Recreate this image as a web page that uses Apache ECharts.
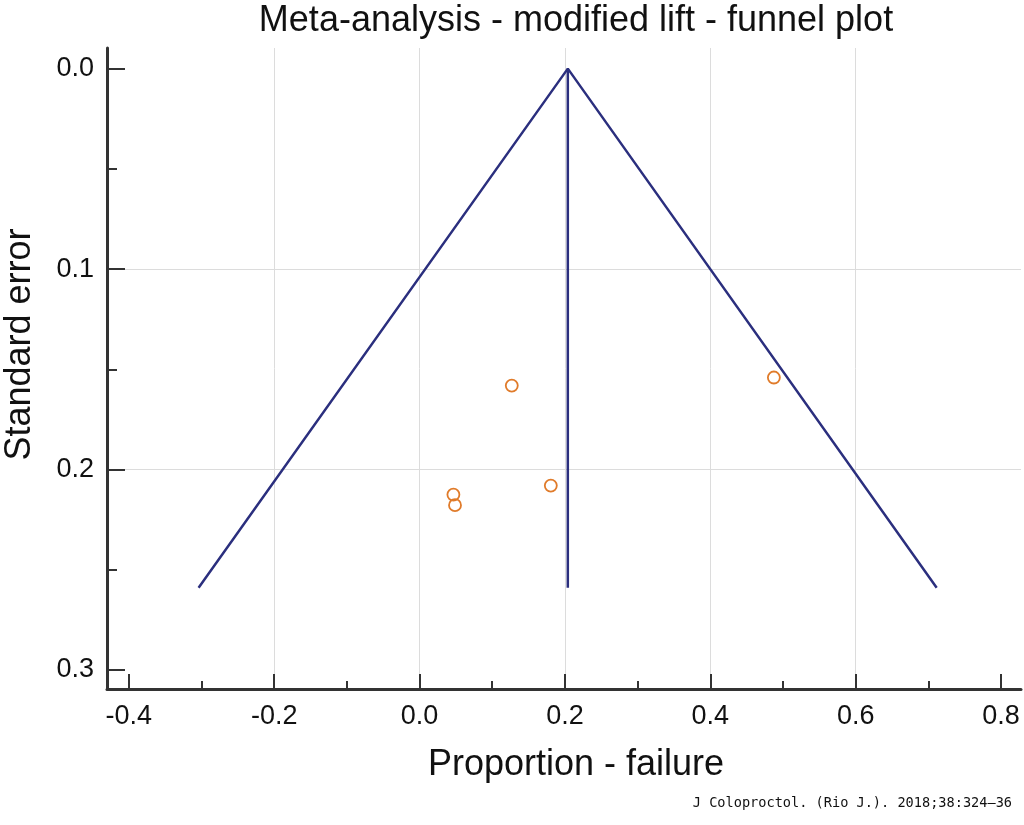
<!DOCTYPE html>
<html>
<head>
<meta charset="utf-8">
<script src="https://cdn.jsdelivr.net/npm/echarts@6/dist/echarts.min.js"></script>
<style>
  html, body { margin: 0; padding: 0; background: #fff; }
  #chart { width: 1024px; height: 825px; }
</style>
</head>
<body>
<div id="chart"></div>
<script>
// studies: proportion of failure vs standard error
var studyProp = [0.1269, 0.4875, 0.1806, 0.0466, 0.0488];
var studySE   = [0.1581, 0.1541, 0.2080, 0.2125, 0.2178];

// funnel limits and pooled estimate
var funnelProp = [-0.304, 0.204, 0.7115];
var funnelSE   = [0.259, 0.0, 0.259];
var pooledProp = [0.204, 0.204];
var pooledSE   = [0.0, 0.259];

var xTicks = [-0.4, -0.2, 0.0, 0.2, 0.4, 0.6, 0.8];
var yTicks = [0.0, 0.1, 0.2, 0.3];

var FONT = '"Liberation Sans", Arial, sans-serif';
var navy = '#2b2f7e';
var orange = '#e07b2a';

function zip(a, b) {
  return a.map(function (v, i) { return [v, b[i]]; });
}

var myChart = echarts.init(document.getElementById('chart'));

var option = {
  backgroundColor: '#fff',
  animation: false,
  title: [{
    text: 'Meta-analysis - modified lift - funnel plot',
    left: 576,
    textAlign: 'center',
    top: 3,
    padding: 0,
    textStyle: { fontFamily: FONT, fontSize: 36, fontWeight: 'normal', color: '#111' }
  }, {
    text: 'J Coloproctol. (Rio J.). 2018;38:324\u201336',
    right: 12,
    top: 796,
    padding: 0,
    textStyle: { fontFamily: '"DejaVu Sans Mono", monospace', fontSize: 13.6, fontWeight: 'normal', color: '#111' }
  }],
  grid: { left: 107, right: 3, top: 48, bottom: 136, containLabel: false, outerBoundsMode: 'none' },
  xAxis: {
    type: 'value',
    min: -0.43,
    max: 0.8275,
    splitNumber: 6,
    name: 'Proportion - failure',
    nameLocation: 'middle',
    nameGap: 58,
    nameTextStyle: { fontFamily: FONT, fontSize: 36, color: '#111', padding: [0, 0, 0, 24] },
    axisLine: { show: true, onZero: false, lineStyle: { color: '#333', width: 3 } },
    axisTick: { show: true, inside: true, length: 15, customValues: xTicks, lineStyle: { color: '#333', width: 2 } },
    minorTick: { show: true, splitNumber: 2, length: 8, lineStyle: { color: '#333', width: 2 } },
    axisLabel: {
      customValues: xTicks,
      margin: 14,
      fontFamily: FONT, fontSize: 27, color: '#111',
      formatter: function (v) { return v.toFixed(1); }
    },
    splitLine: { show: true, showMinLine: false, showMaxLine: false, lineStyle: { color: '#dcdcdc', width: 1 } }
  },
  yAxis: {
    type: 'value',
    inverse: true,
    min: -0.0103,
    max: 0.3095,
    splitNumber: 3,
    name: 'Standard error',
    nameLocation: 'middle',
    nameRotate: 90,
    nameGap: 69,
    nameTextStyle: { fontFamily: FONT, fontSize: 36, color: '#111', padding: [0, 0, 0, 48] },
    axisLine: { show: true, onZero: false, lineStyle: { color: '#333', width: 3 } },
    axisTick: { show: true, inside: true, length: 18, customValues: yTicks, lineStyle: { color: '#333', width: 2 } },
    minorTick: { show: true, splitNumber: 2, length: 10, lineStyle: { color: '#333', width: 2 } },
    axisLabel: {
      customValues: yTicks,
      margin: 13,
      fontFamily: FONT, fontSize: 27, color: '#111',
      formatter: function (v) { return v.toFixed(1); }
    },
    splitLine: { show: true, showMinLine: false, showMaxLine: false, lineStyle: { color: '#dcdcdc', width: 1 } }
  },
  series: [{
    name: 'Funnel',
    type: 'line',
    data: zip(funnelProp, funnelSE),
    showSymbol: false,
    symbol: 'none',
    lineStyle: { color: navy, width: 2.5 },
    z: 3
  }, {
    name: 'Pooled',
    type: 'line',
    data: zip(pooledProp, pooledSE),
    showSymbol: false,
    symbol: 'none',
    lineStyle: { color: navy, width: 2.5 },
    z: 3
  }, {
    name: 'Studies',
    type: 'scatter',
    data: zip(studyProp, studySE),
    symbol: 'circle',
    symbolSize: 12,
    itemStyle: { color: 'rgba(255,255,255,0)', borderColor: orange, borderWidth: 1.8, opacity: 1 },
    z: 4
  }]
};

myChart.setOption(option, true);
</script>
</body>
</html>
